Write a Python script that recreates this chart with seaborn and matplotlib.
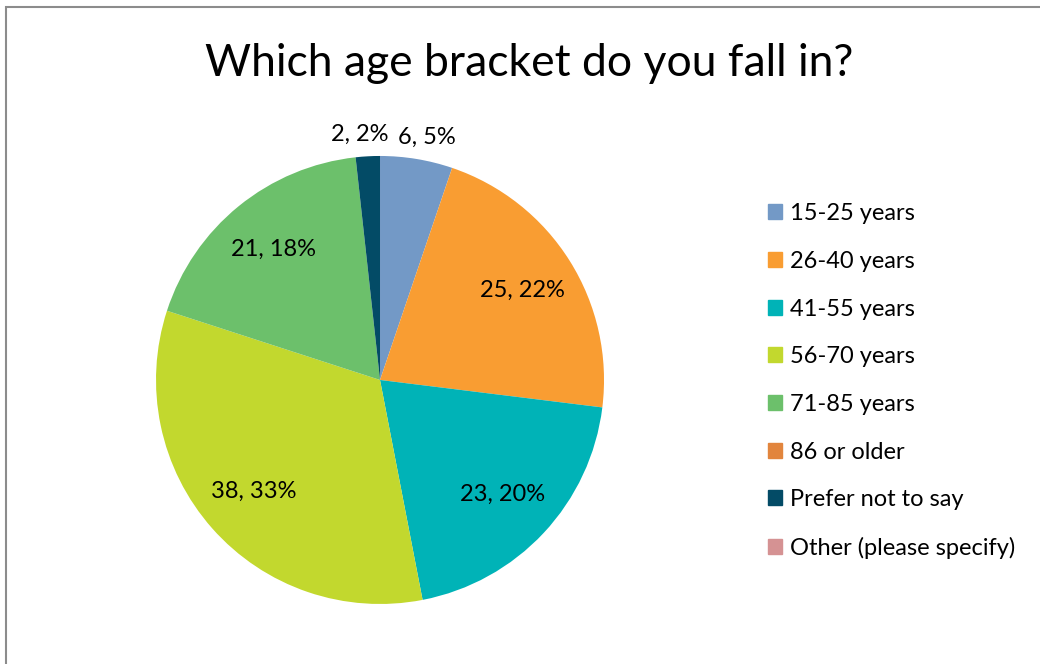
import matplotlib
matplotlib.use("Agg")
import matplotlib.pyplot as plt
import matplotlib.patches as mpatches
import numpy as np
import seaborn as sns

# survey answers
categories = ["15-25 years", "26-40 years", "41-55 years", "56-70 years",
              "71-85 years", "86 or older", "Prefer not to say", "Other (please specify)"]
counts = [6, 25, 23, 38, 21, 0, 2, 0]
colors = ["#7399C6", "#F99D32", "#00B3B7", "#C2D82E", "#6CC06B", "#E2853D", "#034B66", "#D59293"]

sns.set_theme(style="white")
plt.rcParams["font.family"] = ["Lato", "DejaVu Sans"]
plt.rcParams["text.color"] = "black"

fig = plt.figure(figsize=(10.4, 6.64), dpi=100)
ax = fig.add_axes([0.15, 0.0904, 0.4308, 0.6747])

total = sum(counts)
wedges, _ = ax.pie(counts, colors=colors, startangle=90, counterclock=False,
                   radius=1.0, wedgeprops=dict(linewidth=0))
ax.set_xlim(-1, 1)
ax.set_ylim(-1, 1)
ax.set_aspect("equal")

# data labels: "count, pct%" inside for big slices, outside for small ones
outside = []
for w, n in zip(wedges, counts):
    if n == 0:
        continue
    ang = np.deg2rad((w.theta1 + w.theta2) / 2)
    pct = 100 * n / total
    dist = 0.75 if pct > 10 else 1.1
    t = ax.text(dist * np.cos(ang), dist * np.sin(ang), f"{n}, {pct:.0f}%",
                ha="center", va="center", fontsize=17, color="black")
    if pct <= 10:
        outside.append(t)

# push outside labels apart if they collide
fig.canvas.draw()
r = fig.canvas.get_renderer()
outside.sort(key=lambda t: t.get_position()[0])
for a, b in zip(outside, outside[1:]):
    ea, eb = a.get_window_extent(r), b.get_window_extent(r)
    gap = 9
    over = ea.x1 + gap - eb.x0
    if over > 0:
        inv = ax.transData.inverted()
        for t, s in ((a, -over / 2), (b, over / 2)):
            px = ax.transData.transform(t.get_position())
            t.set_position(inv.transform((px[0] + s, px[1])))

fig.suptitle("Which age bracket do you fall in?", x=0.509, y=0.905, fontsize=32, va="center")

handles = [mpatches.Patch(color=c, label=l) for c, l in zip(colors, categories)]
leg = fig.legend(handles=handles, loc="upper left", bbox_to_anchor=(0.718, 0.726),
                 frameon=False, fontsize=17, labelspacing=1.13,
                 handlelength=0.6, handleheight=0.6, handletextpad=0.34)

# chart area border
fig.patches.append(mpatches.Rectangle((6 / 1040, -0.5), 2, 1.5 - 7 / 664,
                                      transform=fig.transFigure, fill=False,
                                      edgecolor="#8C8C8C", linewidth=1.5))

fig.savefig("out.png", dpi=100)
